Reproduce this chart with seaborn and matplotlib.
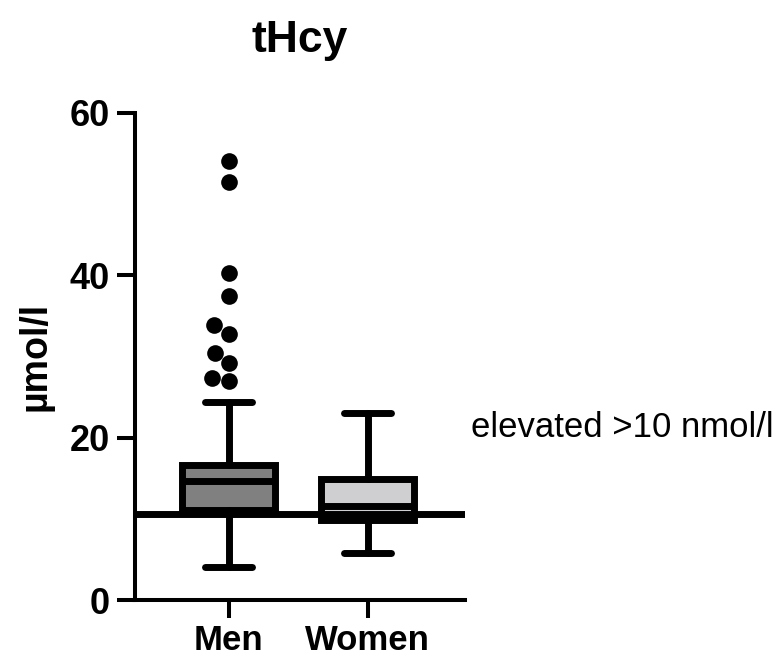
import matplotlib
matplotlib.use("Agg")
import matplotlib.pyplot as plt
import seaborn as sns
import pandas as pd

# values (umol/l)
groups = ["Men", "Women"]
whisker_low = [4.1, 5.8]
q1 = [11.1, 9.8]
medians = [14.6, 11.6]
q3 = [16.6, 14.9]
whisker_high = [24.4, 23.1]
# single points above the men's whisker
outliers_men = [54.1, 51.5, 40.3, 37.4, 33.9, 32.8, 30.4, 29.2, 27.4, 27.0]
box_colors = ["#808080", "#cfcfd1"]
cutoff = 10.6
cutoff_label = "elevated >10 nmol/l"
y_ticks = [0, 20, 40, 60]

sns.set_style("ticks", rc={"text.color": "black", "axes.labelcolor": "black",
                           "xtick.color": "black", "ytick.color": "black",
                           "axes.edgecolor": "black"})
plt.rcParams["font.family"] = ["Liberation Sans", "DejaVu Sans"]

fig = plt.figure(figsize=(7.74, 6.6), dpi=100)
ax = fig.add_axes([0.1744, 0.0909, 0.4264, 0.7379])

stats = []
for i, g in enumerate(groups):
    stats.append({"label": g, "whislo": whisker_low[i], "q1": q1[i],
                  "med": medians[i], "q3": q3[i], "whishi": whisker_high[i],
                  "fliers": []})

lw = 5
bp = ax.bxp(stats, positions=range(len(groups)), widths=0.67, capwidths=0.34,
            patch_artist=True, showfliers=False,
            boxprops=dict(linewidth=lw, edgecolor="black"),
            medianprops=dict(linewidth=lw, color="black"),
            whiskerprops=dict(linewidth=lw, color="black"),
            capprops=dict(linewidth=lw, color="black"))
for patch, c in zip(bp["boxes"], box_colors):
    patch.set_facecolor(c)

out_df = pd.DataFrame({"group": "Men", "value": outliers_men})
sns.swarmplot(data=out_df, x="group", y="value", order=groups,
              color="black", size=12, ax=ax)

ax.axhline(cutoff, color="black", lw=lw, zorder=3)

ax.set_xlim(-0.676, 1.70)
ax.set_ylim(0, 60)
ax.set_xticks(range(len(groups)), groups)
ax.set_yticks(y_ticks)
ax.set_xlabel("")
sns.despine(ax=ax)
for side in ["left", "bottom"]:
    ax.spines[side].set_linewidth(2.9)
ax.tick_params(width=2.9, length=13, labelsize=26, colors="black")
ax.tick_params(axis="x", pad=4, labelsize=25)
ax.tick_params(axis="y", pad=5)
for lab in ax.get_xticklabels() + ax.get_yticklabels():
    lab.set_fontweight("bold")

ax.set_ylabel("µmol/l", fontsize=27, fontweight="bold", labelpad=12)
ax.set_title("tHcy", fontsize=32, fontweight="bold", pad=44)
ax.text(1.74, 21.2, cutoff_label, fontsize=25, va="center", ha="left",
        clip_on=False)

fig.savefig("out.png", dpi=100)
